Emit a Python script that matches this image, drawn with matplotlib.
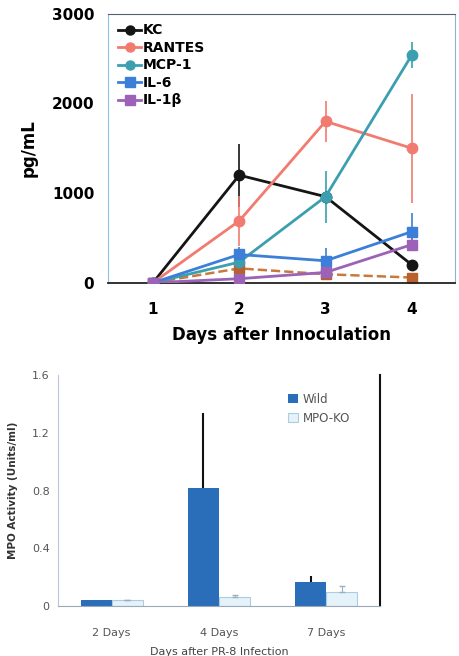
import numpy as np
import matplotlib.pyplot as plt
from matplotlib.lines import Line2D

# top panel: cytokines vs days
days = [1, 2, 3, 4]
kc = [0, 1200, 960, 200]
kc_err = [0, 350, 0, 0]
rantes = [0, 690, 1800, 1500]
rantes_err = [0, 280, 230, 610]
mcp1 = [0, 230, 960, 2540]
mcp1_err = [0, 0, 290, 145]
il6 = [0, 315, 245, 570]
il6_err = [0, 80, 140, 210]
il1b = [0, 45, 115, 425]
il1b_err = [0, 0, 0, 70]
other = [0, 160, 95, 58]   # dashed series, not in legend

# bottom panel: MPO activity
groups = ['2 Days', '4 Days', '7 Days']
wild = [0.045, 0.82, 0.17]
wild_err = [0, 0.52, 0.04]
ko = [0.045, 0.06, 0.10]
ko_err = [0, 0.02, 0.04]

fig = plt.figure(figsize=(4.6, 6.56), dpi=100)

ax = fig.add_axes([0.235, 0.569, 0.754, 0.41])
series = [
    ('KC', kc, kc_err, '#151515', 'o'),
    ('RANTES', rantes, rantes_err, '#f27b70', 'o'),
    ('MCP-1', mcp1, mcp1_err, '#3b9fb0', 'o'),
    ('IL-6', il6, il6_err, '#3b7fd8', 's'),
    ('IL-1\u03b2', il1b, il1b_err, '#9b62b8', 's'),
]
ax.plot(days, other, '--', color='#c87a3c', lw=1.8, marker='s', ms=7,
        mfc='#b8602e', mec='#b8602e', zorder=2)
handles = []
for name, vals, err, col, mk in series:
    ax.errorbar(days, vals, yerr=err, color=col, lw=2, marker=mk, ms=7.5,
                capsize=0, elinewidth=1.2, zorder=3)
    handles.append(Line2D([], [], color=col, lw=2, marker=mk, ms=6.5, label=name))
ax.set_xlim(0.48, 4.5)
ax.set_ylim(0, 3000)
ax.set_xticks(days)
ax.set_yticks([0, 1000, 2000, 3000])
ax.tick_params(length=0, labelsize=11, pad=10)
ax.tick_params(axis='x', pad=14)
for lab in ax.get_xticklabels() + ax.get_yticklabels():
    lab.set_fontweight('bold')
ax.spines['left'].set_color('#8fc3e6')
ax.spines['right'].set_color('#8fb0d0')
ax.spines['top'].set_color('#556070')
ax.spines['bottom'].set_color('#222222')
ax.spines['bottom'].set_linewidth(1.3)
ax.set_ylabel('pg/mL', fontsize=12, fontweight='bold', labelpad=10)
ax.set_xlabel('Days after Innoculation', fontsize=12, fontweight='bold', labelpad=6)
ax.legend(handles=handles, loc='upper left', frameon=False, handlelength=1.7,
          handletextpad=0.1, labelspacing=0.25, borderaxespad=0.3,
          prop={'weight': 'bold', 'size': 10})

# bottom panel
bx = fig.add_axes([0.126, 0.076, 0.70, 0.352])
x = np.arange(len(groups))
w = 0.29
bx.bar(x - w / 2, wild, w, color='#2a6db8', label='Wild', zorder=2)
bx.bar(x + w / 2, ko, w, color='#e6f2f9', edgecolor='#a9cde3', lw=0.8,
       label='MPO-KO', zorder=2)
bx.errorbar(x - w / 2, wild, yerr=[np.zeros(3), wild_err], fmt='none',
            ecolor='#111111', elinewidth=1.5, capsize=0, zorder=3)
bx.errorbar(x + w / 2, ko, yerr=[np.zeros(3), ko_err], fmt='none',
            ecolor='#9ab0c0', elinewidth=0.8, capsize=2, zorder=3)
bx.set_xlim(-0.5, 2.5)
bx.set_ylim(0, 1.6)
bx.set_yticks([0, 0.4, 0.8, 1.2, 1.6])
bx.set_yticklabels(['0', '0.4', '0.8', '1.2', '1.6'])
bx.set_xticks(x)
bx.set_xticklabels(groups)
bx.tick_params(length=0, labelsize=8, colors='#555555', pad=6)
bx.tick_params(axis='x', pad=16)
bx.spines['top'].set_visible(False)
bx.spines['left'].set_color('#b8c8dc')
bx.spines['bottom'].set_color('#9aa8b8')
bx.spines['right'].set_color('#111111')
bx.spines['right'].set_linewidth(1.5)
bx.set_ylabel('MPO Activity (Units/ml)', fontsize=7.5, fontweight='bold',
              color='#333333', labelpad=10)
bx.set_xlabel('Days after PR-8 Infection', fontsize=8, color='#444444', labelpad=6)
bx.legend(loc='upper right', bbox_to_anchor=(0.94, 0.97), frameon=False,
          handlelength=0.8, handleheight=0.8, handletextpad=0.4,
          prop={'size': 8.5}, labelcolor='#555555')

fig.savefig('out.png', dpi=100)
